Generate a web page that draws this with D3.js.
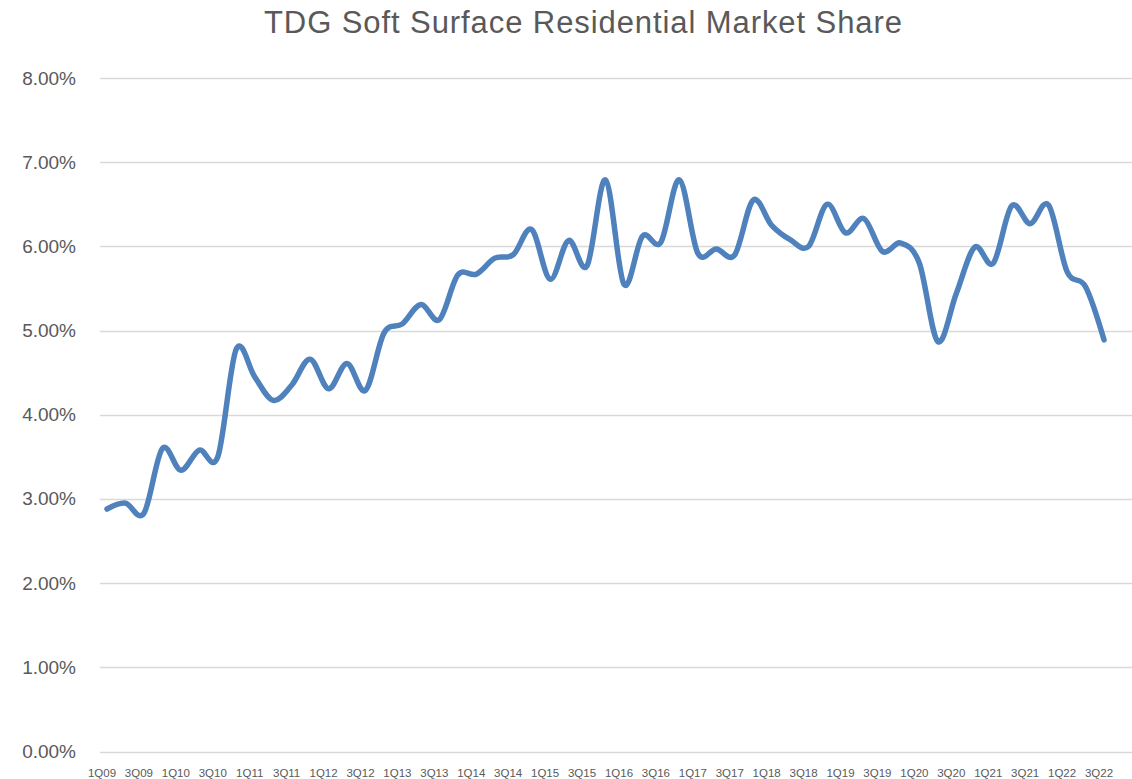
<!DOCTYPE html>
<meta charset="utf-8">
<style>
  body { margin: 0; background: #fff; }
  svg text { font-family: "Liberation Sans", Arial, sans-serif; fill: #595959; }
</style>
<svg width="1132" height="779"></svg>
<script src="https://cdn.jsdelivr.net/npm/d3@7"></script>
<script>

var svg = d3.select("svg"),
    width = +svg.attr("width"),
    height = +svg.attr("height");

// quarters 1Q09 .. 3Q22
var years = d3.range(9, 23);
var quarters = [];
years.forEach(function (y) {
  [1, 2, 3, 4].forEach(function (q) {
    var yy = (y < 10 ? "0" : "") + y;
    if (!(y == 22 && q == 4)) quarters.push(q + "Q" + yy);
  });
});

// market share %
var share = [
  2.88, 2.95, 2.83, 3.60, 3.34, 3.58, 3.50, 4.78, 4.45, 4.17,
  4.35, 4.66, 4.31, 4.61, 4.29, 4.97, 5.08, 5.31, 5.13, 5.66,
  5.67, 5.86, 5.90, 6.20, 5.61, 6.07, 5.77, 6.79, 5.55, 6.12,
  6.05, 6.79, 5.92, 5.97, 5.90, 6.55, 6.25, 6.08, 6.00, 6.50,
  6.16, 6.33, 5.94, 6.04, 5.80, 4.87, 5.44, 5.99, 5.80, 6.48,
  6.27, 6.49, 5.70, 5.52, 4.89
];

var yTicks = [0, 1, 2, 3, 4, 5, 6, 7, 8];

var data = quarters.map(function (q, i) { return { q: q, v: share[i] }; });

var x = d3.scalePoint().domain(quarters).range([107, 1104]);
var y = d3.scaleLinear().domain([0, 8]).range([751.5, 78]);

// title
svg.append("text")
  .attr("x", 583)
  .attr("y", 33)
  .attr("text-anchor", "middle")
  .style("font-size", "31px")
  .attr("textLength", 638)
  .attr("lengthAdjust", "spacing")
  .text("TDG Soft Surface Residential Market Share");

// gridlines
svg.append("g")
  .selectAll("line")
  .data(yTicks)
  .join("line")
  .attr("x1", 100)
  .attr("x2", 1132)
  .attr("y1", function (d) { return Math.round(y(d)) + 0.5; })
  .attr("y2", function (d) { return Math.round(y(d)) + 0.5; })
  .attr("stroke", "#d9d9d9")
  .attr("stroke-width", 1.3);

// y labels
svg.append("g")
  .selectAll("text")
  .data(yTicks)
  .join("text")
  .attr("x", 76)
  .attr("y", function (d) { return y(d) + 6.5; })
  .attr("text-anchor", "end")
  .style("font-size", "19px")
  .text(function (d) { return d3.format(".2f")(d) + "%"; });

// x labels, every other quarter
svg.append("g")
  .selectAll("text")
  .data(quarters.filter(function (d, i) { return i % 2 == 0; }))
  .join("text")
  .attr("x", function (d) { return x(d) - 5; })
  .attr("y", 777)
  .attr("text-anchor", "middle")
  .style("font-size", "11.5px")
  .text(function (d) { return d; });

var line = d3.line()
  .x(function (d) { return x(d.q); })
  .y(function (d) { return y(d.v); })
  .curve(d3.curveCardinal.tension(0));

svg.append("path")
  .datum(data)
  .attr("d", line)
  .attr("fill", "none")
  .attr("stroke", "#4f81bd")
  .attr("stroke-width", 5.5)
  .attr("stroke-linejoin", "round")
  .attr("stroke-linecap", "round");

</script>
